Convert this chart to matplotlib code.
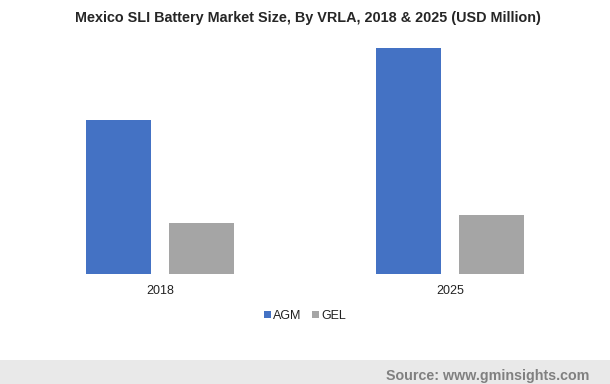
import matplotlib.pyplot as plt
import numpy as np
from matplotlib.patches import Rectangle

plt.rcParams['font.family'] = ['Liberation Sans', 'DejaVu Sans']

# data (relative bar heights, USD Million)
years = ['2018', '2025']
agm = [154, 226]
gel = [51, 59]
series_names = ['AGM', 'GEL']
colors = ['#4472C4', '#A5A5A5']

W, H = 610, 384
fig = plt.figure(figsize=(W / 100, H / 100), dpi=100)

# axes placed so the baseline and groups sit where the reference has them
ax = fig.add_axes([15 / W, (H - 274) / H, 580 / W, 240 / H])
x = np.arange(len(years))
bw = 0.224
off = 0.143
ax.bar(x - off, agm, bw, color=colors[0], label=series_names[0])
ax.bar(x + off, gel, bw, color=colors[1], label=series_names[1])
ax.set_xlim(-0.5, 1.5)
ax.set_ylim(0, 240)
ax.set_xticks(x)
ax.set_xticklabels(years, fontsize=9, color='#222222')
ax.tick_params(axis='x', length=0, pad=8)
ax.set_yticks([])
for s in ax.spines.values():
    s.set_visible(False)

leg = ax.legend(loc='center', bbox_to_anchor=(0.5, -0.175), ncol=2, frameon=False,
                fontsize=9, handlelength=0.55, handleheight=0.55, handletextpad=0.2,
                columnspacing=0.8)
for t in leg.get_texts():
    t.set_color('#222222')

fig.text(0.504, 1 - 18 / H, 'Mexico SLI Battery Market Size, By VRLA, 2018 & 2025 (USD Million)',
         ha='center', va='center', fontsize=10.4, fontweight='bold', color='#262626')

# footer band
fig.patches.append(Rectangle((0, 0), 1, 24 / H, transform=fig.transFigure,
                             facecolor='#E9E9E9', edgecolor='none', zorder=0))
fig.text(589 / W, 8 / H, 'Source: www.gminsights.com', ha='right', va='center',
         fontsize=10.3, fontweight='bold', color='#808080')

fig.savefig('out.png', dpi=100)
